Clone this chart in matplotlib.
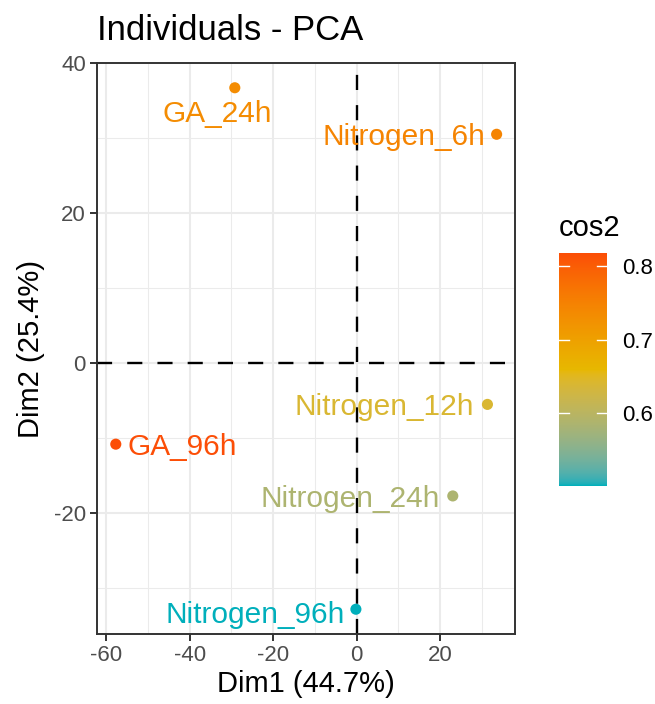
import numpy as np
import matplotlib
matplotlib.use("Agg")
import matplotlib.pyplot as plt
from matplotlib.colors import ListedColormap, Normalize

plt.rcParams['font.family'] = ['Liberation Sans', 'DejaVu Sans']
plt.rcParams['axes.unicode_minus'] = False

# ---- data ----
labels = ["GA_24h", "Nitrogen_6h", "Nitrogen_12h", "GA_96h", "Nitrogen_24h", "Nitrogen_96h"]
dim1 = [-29.2, 33.5, 31.3, -57.7, 23.0, -0.2]
dim2 = [36.7, 30.5, -5.5, -10.8, -17.7, -32.8]
cos2 = [0.735, 0.748, 0.640, 0.818, 0.585, 0.501]
grad_colors = ["#00AFBB", "#E7B800", "#FC4E07"]
xticks = [-60, -40, -20, 0, 20]
yticks = [-20, 0, 20, 40]
cbar_ticks = [0.6, 0.7, 0.8]

# label offsets in pixels (dx, dy, ha)
label_offsets = {
    "GA_24h": (-18, -26, "center"),
    "Nitrogen_6h": (-11, -3, "right"),
    "Nitrogen_12h": (-13, -3, "right"),
    "GA_96h": (12, -3, "left"),
    "Nitrogen_24h": (-13, -3, "right"),
    "Nitrogen_96h": (-11, -6, "right"),
}

# ---- Lab interpolation like ggplot ----
def srgb_to_lin(c):
    c = np.asarray(c, float)
    return np.where(c <= 0.04045, c / 12.92, ((c + 0.055) / 1.055) ** 2.4)

def lin_to_srgb(c):
    c = np.clip(c, 0, 1)
    return np.where(c <= 0.0031308, 12.92 * c, 1.055 * c ** (1 / 2.4) - 0.055)

M = np.array([[0.4124, 0.3576, 0.1805], [0.2126, 0.7152, 0.0722], [0.0193, 0.1192, 0.9505]])
Minv = np.linalg.inv(M)
wp = np.array([0.95047, 1.0, 1.08883])

def f(t):
    d = 6 / 29
    return np.where(t > d ** 3, np.cbrt(t), t / (3 * d * d) + 4 / 29)

def finv(t):
    d = 6 / 29
    return np.where(t > d, t ** 3, 3 * d * d * (t - 4 / 29))

def hex2rgb(h):
    return np.array([int(h[i:i + 2], 16) / 255 for i in (1, 3, 5)])

def rgb2lab(rgb):
    xyz = M @ srgb_to_lin(rgb) / wp
    fx, fy, fz = f(xyz)
    return np.array([116 * fy - 16, 500 * (fx - fy), 200 * (fy - fz)])

def lab2rgb(lab):
    L, a, b = lab
    fy = (L + 16) / 116
    fx = fy + a / 500
    fz = fy - b / 200
    xyz = np.array([finv(fx), finv(fy), finv(fz)]) * wp
    return lin_to_srgb(Minv @ xyz)

labs = [rgb2lab(hex2rgb(h)) for h in grad_colors]
n = 512
cols = []
for t in np.linspace(0, 1, n):
    if t <= 0.5:
        u = t / 0.5
        lab = labs[0] * (1 - u) + labs[1] * u
    else:
        u = (t - 0.5) / 0.5
        lab = labs[1] * (1 - u) + labs[2] * u
    cols.append(lab2rgb(lab))
cmap = ListedColormap(np.clip(np.array(cols), 0, 1))
vmin, vmax = min(cos2), max(cos2)
norm = Normalize(vmin=vmin, vmax=vmax)

# ---- figure ----
W, H = 655, 704
fig = plt.figure(figsize=(W / 100, H / 100), dpi=100)
ax = fig.add_axes([97 / W, 1 - 634 / H, (515 - 97) / W, (634 - 63) / H])

ax.set_xlim(-62.2, 37.9)
ax.set_ylim(-36.1, 40.0)
ax.set_xticks(xticks)
ax.set_yticks(yticks)
ax.set_xticks([-50, -30, -10, 10, 30], minor=True)
ax.set_yticks([-30, -10, 10, 30], minor=True)
ax.grid(True, which='major', color='#EBEBEB', lw=1.5)
ax.grid(True, which='minor', color='#EBEBEB', lw=0.75)
ax.set_axisbelow(True)
for s in ax.spines.values():
    s.set_color('#333333')
    s.set_linewidth(1.4)
ax.tick_params(which='major', length=5, width=1.4, color='#333333', labelcolor='#4D4D4D', labelsize=16, pad=3)
ax.tick_params(which='minor', length=0)

ax.axhline(0, color='black', lw=1.7, ls=(0, (6.4, 6.4)), zorder=1.5)
ax.axvline(0, color='black', lw=1.7, ls=(0, (6.4, 6.4)), zorder=1.5)

colors = cmap(norm(np.array(cos2)))
ax.scatter(dim1, dim2, c=colors, s=64, zorder=3, linewidths=0)
for lab, x, y, c in zip(labels, dim1, dim2, colors):
    dx, dy, ha = label_offsets[lab]
    ax.annotate(lab, (x, y), xytext=(dx, dy), textcoords='offset pixels',
                ha=ha, va='center', color=c, fontsize=21.5, zorder=4)

ax.set_xlabel("Dim1 (44.7%)", fontsize=21, labelpad=3)
ax.set_ylabel("Dim2 (25.4%)", fontsize=21, labelpad=6)
fig.text(97 / W, 1 - 30 / H, "Individuals - PCA", fontsize=25, ha='left', va='center')

# ---- colorbar ----
cax = fig.add_axes([559 / W, 1 - 486 / H, (607 - 559) / W, (486 - 253) / H])
grad = np.linspace(vmin, vmax, 300).reshape(-1, 1)
cax.imshow(grad, aspect='auto', cmap=cmap, norm=norm, origin='lower',
           extent=[0, 1, vmin, vmax])
cax.set_xlim(0, 1)
cax.set_ylim(vmin, vmax)
for t in cbar_ticks:
    cax.plot([0, 0.2], [t, t], color='white', lw=1)
    cax.plot([0.8, 1], [t, t], color='white', lw=1)
cax.set_xticks([])
cax.yaxis.tick_right()
cax.set_yticks(cbar_ticks)
cax.set_yticklabels([f"{t:.1f}" for t in cbar_ticks])
cax.tick_params(axis='y', length=0, labelsize=16, labelcolor='black', pad=11)
for s in cax.spines.values():
    s.set_visible(False)
fig.text(559 / W, 1 - 228 / H, "cos2", fontsize=21, ha='left', va='center')

fig.savefig("out.png", dpi=100)
